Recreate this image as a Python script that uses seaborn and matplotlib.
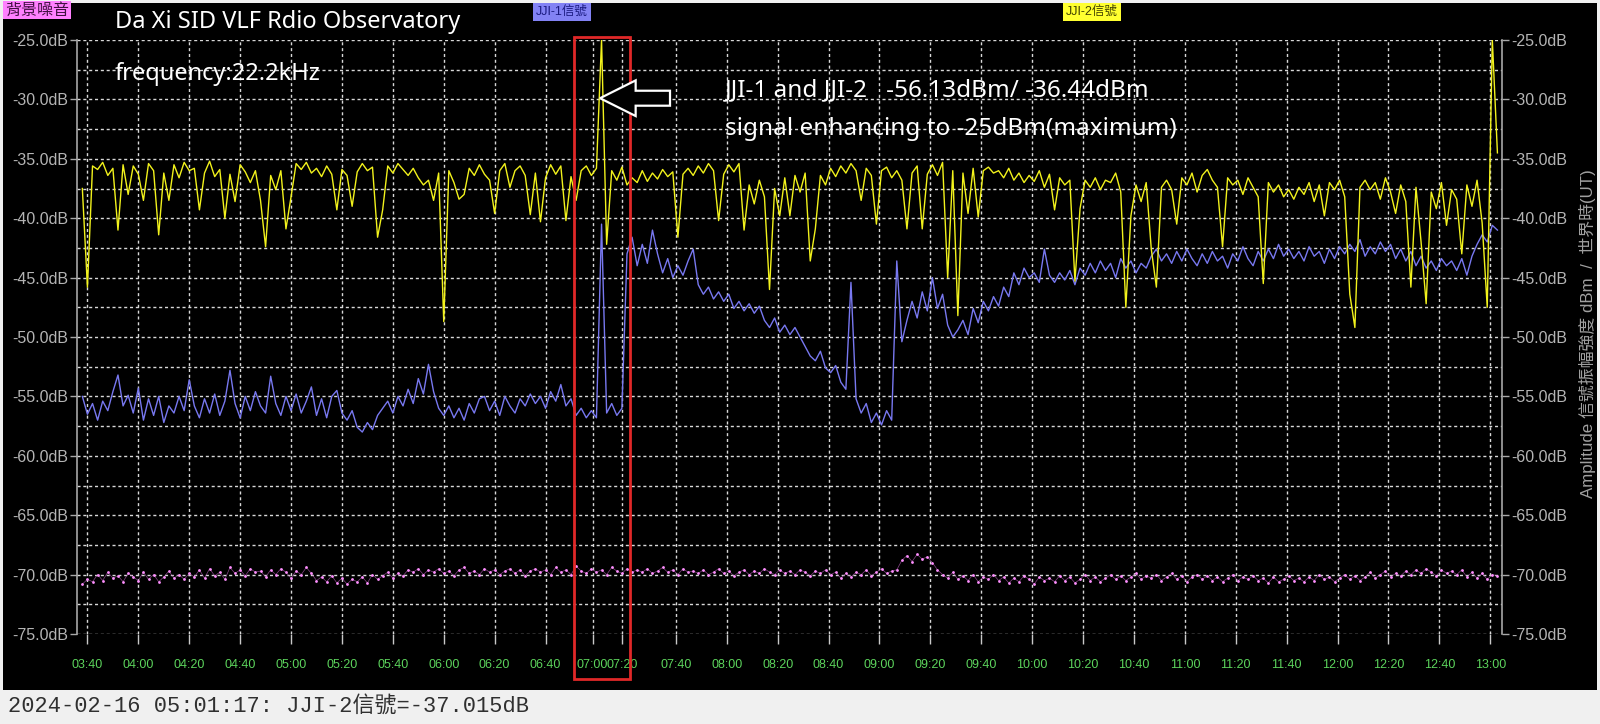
import numpy as np
import pandas as pd
import matplotlib
matplotlib.use("Agg")
import matplotlib.pyplot as plt
import seaborn as sns
from matplotlib.patches import Rectangle, FancyArrow

# ---------------- data (display-axis minutes after 03:40, one sample every 2 min) ----------------
sample_start, sample_step = -2, 2

jji2_db = [  # JJI-2 (yellow)
    -37.5, -45.8, -35.6, -35.9, -35.3, -36.4, -35.8, -41.0, -35.5, -38.0,
    -35.6, -36.3, -38.5, -35.4, -36.0, -41.4, -36.2, -38.5, -35.5, -36.6,
    -35.3, -36.0, -35.8, -39.3, -36.2, -35.2, -36.5, -35.9, -40.0, -36.3,
    -38.6, -35.5, -36.1, -37.0, -36.0, -38.5, -42.4, -36.4, -37.6, -36.0,
    -40.9, -38.2, -35.4, -35.9, -35.3, -36.2, -35.8, -36.5, -35.6, -36.3,
    -39.3, -35.9, -36.4, -39.0, -36.1, -35.4, -36.0, -35.7, -41.6, -39.3,
    -35.6, -36.2, -35.4, -35.9, -36.4, -35.8, -36.6, -37.2, -36.8, -38.5,
    -36.2, -48.7, -36.0, -37.0, -38.4, -38.0, -35.8, -36.4, -35.5, -36.3,
    -36.8, -39.6, -36.0, -35.4, -37.4, -36.0, -35.6, -36.4, -39.7, -36.2,
    -40.3, -36.6, -35.5, -36.3, -35.6, -40.2, -36.5, -38.5, -36.0, -35.6,
    -36.4, -35.8, -25.0, -42.2, -36.0, -36.8, -35.7, -37.2, -36.6, -37.0,
    -36.0, -36.9, -36.2, -36.7, -35.9, -36.5, -36.1, -41.6, -36.3, -35.8,
    -36.4, -35.6, -36.2, -35.4, -36.0, -40.2, -36.3, -35.5, -36.1, -35.4,
    -41.0, -37.2, -38.8, -36.8, -38.2, -46.0, -37.5, -39.8, -36.6, -39.8,
    -36.4, -37.8, -36.2, -43.6, -40.9, -36.4, -37.2, -35.8, -36.5, -35.6,
    -36.2, -35.4, -36.0, -38.5, -35.8, -36.4, -40.5, -36.0, -35.7, -36.6,
    -36.0, -36.8, -40.9, -36.2, -35.6, -40.9, -36.3, -35.5, -36.4, -35.3,
    -45.0, -36.0, -48.2, -36.2, -39.6, -35.8, -39.9, -36.0, -35.7, -36.2,
    -36.0, -36.6, -35.8, -36.8, -36.2, -37.0, -36.4, -36.9, -36.0, -37.4,
    -36.3, -39.3, -36.6, -37.2, -36.8, -45.3, -39.2, -36.8, -37.4, -36.6,
    -37.6, -36.8, -37.0, -36.2, -37.8, -47.5, -39.8, -37.2, -38.6, -37.0,
    -42.6, -45.8, -37.4, -36.8, -37.6, -40.5, -36.6, -37.2, -36.2, -37.8,
    -36.4, -35.9, -36.8, -37.4, -42.4, -36.6, -37.2, -36.8, -38.0, -36.6,
    -37.4, -38.2, -45.5, -37.0, -37.8, -37.2, -38.2, -37.6, -38.4, -37.4,
    -38.0, -37.0, -38.6, -37.2, -39.8, -37.0, -37.6, -36.8, -38.2, -46.4,
    -49.2, -37.4, -36.8, -37.6, -37.0, -38.4, -36.6, -37.8, -39.6, -37.2,
    -38.6, -45.8, -37.4, -42.0, -47.2, -37.8, -39.2, -37.0, -40.6, -37.6,
    -38.4, -43.0, -37.2, -39.0, -36.8, -40.4, -47.5, -25.0, -34.5,
]

jji1_db = [  # JJI-1 (blue)
    -55.0, -56.5, -55.6, -57.0, -55.4, -56.2, -54.6, -53.2, -55.8, -54.9,
    -56.4, -54.3, -57.0, -55.2, -56.6, -55.0, -57.2, -55.8, -56.4, -55.0,
    -56.2, -53.6, -55.8, -56.8, -55.2, -56.4, -54.8, -56.6, -55.4, -52.8,
    -55.6, -56.8, -55.0, -56.2, -54.6, -55.8, -56.4, -53.3, -55.6, -56.6,
    -55.0, -56.2, -54.8, -56.4, -55.4, -54.2, -56.6, -55.2, -56.8, -55.0,
    -54.5, -56.4, -57.0, -56.2, -57.6, -58.0, -57.2, -57.8, -56.6, -56.0,
    -55.4, -56.4, -55.0, -55.8, -54.4, -55.6, -53.5, -54.8, -52.3, -54.6,
    -56.0, -56.6, -55.8, -56.8, -56.0, -57.0, -55.6, -56.4, -55.2, -55.0,
    -56.2, -55.4, -56.6, -55.0, -55.8, -56.4, -55.2, -55.8, -54.8, -55.6,
    -55.0, -56.0, -54.6, -55.4, -54.0, -55.8, -55.2, -56.6, -56.0, -56.8,
    -56.2, -56.8, -40.5, -56.4, -55.6, -56.6, -56.0, -43.0, -41.6, -44.0,
    -42.2, -43.8, -41.0, -43.0, -44.6, -43.4, -45.0, -44.0, -44.8, -43.6,
    -42.6, -45.6, -46.4, -45.8, -46.8, -46.2, -47.0, -46.4, -47.6, -47.0,
    -47.8, -47.2, -48.0, -47.4, -48.6, -49.2, -48.4, -49.6, -49.0, -49.8,
    -49.2, -50.0, -50.8, -51.6, -52.0, -51.2, -52.6, -53.0, -52.4, -53.8,
    -54.4, -45.4, -55.2, -56.4, -55.6, -57.2, -56.4, -57.4, -56.2, -57.0,
    -43.6, -50.4, -48.6, -47.0, -48.4, -46.2, -47.8, -45.0, -47.6, -46.4,
    -49.0, -50.0, -49.4, -48.6, -49.8, -47.6, -48.8, -47.0, -47.8, -46.6,
    -47.4, -45.8, -46.6, -44.6, -45.6, -44.2, -45.0, -44.6, -45.4, -42.6,
    -44.8, -45.4, -44.6, -45.2, -44.4, -45.6, -44.2, -44.8, -43.8, -44.6,
    -43.6, -44.4, -43.8, -45.0, -43.4, -44.2, -43.6, -44.6, -43.8, -44.2,
    -43.2, -42.6, -43.6, -43.0, -43.8, -42.8, -43.6, -42.6, -43.4, -44.0,
    -43.0, -43.8, -42.8, -43.6, -43.2, -44.2, -43.0, -43.6, -42.4, -43.4,
    -44.0, -42.8, -43.6, -42.6, -43.4, -42.2, -43.2, -42.6, -43.4, -42.8,
    -43.6, -42.4, -43.2, -42.8, -43.8, -42.6, -43.4, -42.4, -43.0, -42.2,
    -42.8, -41.8, -43.2, -42.4, -43.0, -42.0, -42.8, -42.2, -43.4, -42.6,
    -43.6, -42.8, -44.0, -43.2, -44.2, -43.6, -44.4, -43.4, -44.0, -43.6,
    -44.4, -43.4, -44.8, -43.2, -42.2, -41.4, -42.0, -40.6, -41.0,
]

noise_db = [  # background noise (magenta)
    -70.8, -70.4, -70.6, -70.0, -70.5, -69.8, -70.3, -70.1, -70.6, -69.9,
    -70.2, -70.5, -69.8, -70.4, -70.0, -70.6, -70.2, -69.7, -70.3, -70.0,
    -70.4, -69.9, -70.2, -69.6, -70.3, -69.5, -70.1, -69.8, -70.4, -69.4,
    -69.9, -69.6, -70.1, -69.5, -69.8, -69.7, -70.2, -69.6, -70.0, -69.5,
    -69.8, -70.3, -69.7, -70.0, -69.4, -69.9, -70.5, -70.2, -70.6, -70.1,
    -70.7, -70.3, -70.8, -70.4, -70.6, -70.2, -70.7, -70.0, -70.4, -70.1,
    -69.8, -70.3, -69.9, -70.1, -69.6, -69.8, -69.5, -70.0, -69.6, -69.8,
    -69.5, -69.9, -69.7, -70.1, -69.6, -69.4, -69.9, -69.7, -70.0, -69.5,
    -69.8, -69.6, -70.0, -69.7, -69.5, -69.9, -69.6, -70.1, -69.7, -69.5,
    -69.8, -69.6, -70.0, -69.4, -69.8, -69.6, -70.0, -69.3, -69.7, -69.9,
    -69.5, -69.8, -69.6, -70.0, -69.4, -69.7, -69.9, -69.5, -69.8, -69.6,
    -69.8, -69.5, -69.9, -69.7, -69.4, -69.8, -69.6, -70.0, -69.5, -69.8,
    -69.7, -69.9, -69.6, -70.0, -69.8, -69.5, -69.9, -69.7, -70.1, -69.8,
    -69.6, -70.0, -69.7, -69.9, -69.5, -69.8, -70.0, -69.6, -69.9, -69.7,
    -70.0, -69.6, -69.8, -70.1, -69.7, -69.9, -69.6, -70.0, -69.8, -70.3,
    -69.9, -70.2, -69.8, -70.0, -69.6, -70.1, -69.8, -69.5, -69.9, -69.7,
    -69.6, -68.8, -68.4, -68.9, -68.3, -68.7, -68.5, -69.0, -69.6, -70.0,
    -70.3, -69.8, -70.4, -70.1, -70.5, -70.0, -70.6, -70.2, -70.4, -70.0,
    -70.5, -70.2, -70.7, -70.3, -70.6, -70.1, -70.4, -70.8, -70.2, -70.5,
    -70.3, -70.6, -70.1, -70.5, -70.2, -70.7, -70.4, -70.0, -70.5, -70.2,
    -70.6, -70.3, -70.0, -70.4, -70.1, -70.5, -70.2, -69.9, -70.4, -70.1,
    -70.3, -70.0, -70.5, -70.2, -69.9, -70.4, -70.1, -70.6, -70.2, -70.0,
    -70.4, -70.1, -70.5, -70.2, -70.6, -70.3, -70.0, -70.5, -70.2, -70.4,
    -70.1, -70.5, -70.3, -70.7, -70.2, -70.6, -70.4, -70.1, -70.5, -70.3,
    -70.6, -70.2, -70.5, -70.0, -70.4, -70.2, -70.6, -70.3, -70.0, -70.4,
    -70.1, -70.5, -70.2, -69.8, -70.3, -70.0, -69.7, -70.2, -69.9, -70.1,
    -69.7, -70.0, -69.6, -69.9, -69.5, -69.8, -70.1, -69.6, -69.9, -69.7,
    -70.0, -69.6, -70.2, -69.8, -70.3, -69.9, -70.4, -70.0, -70.1,
]

xtick_labels = ["03:40", "04:00", "04:20", "04:40", "05:00", "05:20", "05:40", "06:00",
                "06:20", "06:40", "07:00", "07:20", "07:40", "08:00", "08:20", "08:40",
                "09:00", "09:20", "09:40", "10:00", "10:20", "10:40", "11:00", "11:20",
                "11:40", "12:00", "12:20", "12:40", "13:00"]
xtick_pos = [0, 20, 40, 60, 80, 100, 120, 140, 160, 180, 198.5, 210] + \
            [231.2 + 20 * i for i in range(17)]
ytick_vals = [-25, -30, -35, -40, -45, -50, -55, -60, -65, -70, -75]
ygrid_minor = [-27.5, -32.5, -37.5, -42.5, -47.5, -52.5, -57.5, -62.5, -67.5, -72.5]

n = len(jji2_db)
assert n == len(jji1_db) == len(noise_db), (len(jji2_db), len(jji1_db), len(noise_db))
sample_minutes = sample_start + sample_step * np.arange(n)
df = pd.DataFrame({"t": sample_minutes, "jji1": jji1_db, "jji2": jji2_db, "noise": noise_db})

# ---------------- figure ----------------
W, H = 1600, 724
fig = plt.figure(figsize=(W / 100, H / 100), dpi=100, facecolor="#f0f0f0")
plt.rcParams["font.family"] = ["Liberation Sans", "Noto Sans CJK TC", "DejaVu Sans"]

def fx(x):
    return x / W

def fy(y):
    return 1 - y / H

fig.patches.append(Rectangle((fx(3), fy(690)), fx(1597) - fx(3), fy(3) - fy(690),
                             transform=fig.transFigure, facecolor="black",
                             edgecolor="none", zorder=-5))

ax = fig.add_axes([fx(77), fy(634), fx(1502) - fx(77), fy(40) - fy(634)])
ax.set_facecolor("black")
ax.set_xlim(-4.1, 555.8)
ax.set_ylim(-75, -25)

grid_kw = dict(color="#d8d8d8", linestyle=(0, (2.2, 2.0)), linewidth=1.0)
ax.set_yticks(ytick_vals)
ax.set_yticks(ygrid_minor, minor=True)
ax.set_yticklabels([f"{v:.1f}dB" for v in ytick_vals])
ax.set_xticks(xtick_pos)
ax.set_xticklabels(xtick_labels)
ax.yaxis.grid(True, which="both", **grid_kw)
ax.xaxis.grid(True, which="major", **grid_kw)
ax.set_axisbelow(True)

sns.lineplot(data=df, x="t", y="noise", ax=ax, color="#c060c0", linewidth=0.5,
             alpha=0.7, zorder=2)
sns.scatterplot(data=df, x="t", y="noise", ax=ax, color="#ff90ff", s=4,
                linewidth=0, zorder=3)
sns.lineplot(data=df, x="t", y="jji1", ax=ax, color="#7878f0", linewidth=1.0, zorder=3)
sns.lineplot(data=df, x="t", y="jji2", ax=ax, color="#f2f21c", linewidth=1.0, zorder=4)
ax.set_xlabel("")
ax.set_ylabel("")

for side in ("top", "bottom"):
    ax.spines[side].set_visible(False)
for side in ("left", "right"):
    ax.spines[side].set_color("#a8a8a8")
    ax.spines[side].set_linewidth(1.2)

ax.tick_params(axis="y", which="major", left=True, right=True, labelleft=True,
               labelright=True, color="#a8a8a8", labelcolor="#b4b4b4",
               labelsize=11.5, length=5, width=1, pad=1.5)
ax.tick_params(axis="y", which="minor", left=False, right=False, length=0)
ax.tick_params(axis="x", which="major", bottom=True, color="#c8c8c8",
               labelcolor="#5cd35c", labelsize=9, length=7, width=1, pad=11)

# red highlight box and hollow arrow
ax.add_patch(Rectangle((191.2, -78.8), 22.0, 54.05, fill=False, edgecolor="#e02828",
                       linewidth=2.0, clip_on=False, zorder=6))
ax.add_patch(FancyArrow(228.9, -29.9, -27.5, 0, width=1.26, head_width=3.0,
                        head_length=14.0, length_includes_head=True,
                        facecolor="black", edgecolor="white", linewidth=1.6, zorder=7))

# texts
title_kw = dict(color="white", family=["Noto Sans", "DejaVu Sans"], va="center")
fig.text(fx(115), fy(22), "Da Xi SID VLF Rdio Observatory", fontsize=17, **title_kw)
fig.text(fx(115), fy(74), "frequency:22.2kHz", fontsize=17, **title_kw)
fig.text(fx(725), fy(90), "JJI-1 and JJI-2   -56.13dBm/ -36.44dBm", fontsize=17.5, **title_kw)
fig.text(fx(725), fy(129), "signal enhancing to -25dBm(maximum)", fontsize=17.5, **title_kw)

tag_fam = ["Liberation Sans", "Noto Sans CJK TC"]
fig.text(fx(5), fy(10), "背景噪音", fontsize=11.5, family=tag_fam, color="#401040", va="center",
         bbox=dict(boxstyle="square,pad=0.1", facecolor="#ff80ff", edgecolor="none"))
fig.text(fx(536), fy(12), "JJI-1信號", fontsize=9, family=tag_fam, color="#1a1a80", va="center",
         bbox=dict(boxstyle="square,pad=0.22", facecolor="#8282f4", edgecolor="none"))
fig.text(fx(1066), fy(12), "JJI-2信號", fontsize=9, family=tag_fam, color="#404000", va="center",
         bbox=dict(boxstyle="square,pad=0.22", facecolor="#ffff30", edgecolor="none"))

fig.text(fx(1587), fy(334), "Amplitude 信號振幅強度 dBm  /  世界時(UT)", rotation=90,
         color="#a0a0a0", fontsize=12.2, family=tag_fam, ha="center", va="center")

fig.text(fx(8), fy(706), "2024-02-16 05:01:17: JJI-2信號=-37.015dB",
         family=["Liberation Mono", "Noto Sans CJK TC"], fontsize=15.8, color="#303030",
         va="center")

fig.savefig("out.png", dpi=100, facecolor=fig.get_facecolor())
